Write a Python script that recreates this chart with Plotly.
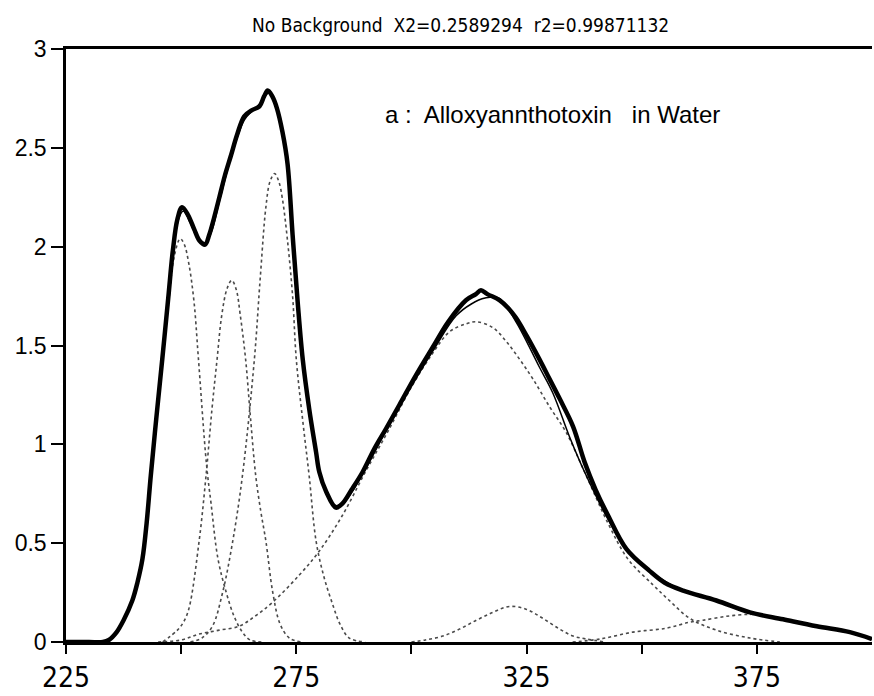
import plotly.graph_objects as go

# Measured spectrum (absorbance vs wavelength, nm)
data_x = [225, 230, 233, 234.3, 236, 237.5, 239.4, 240.5, 241.6, 242.5, 243.4, 244.6,
          245.9, 247.2, 248.2, 249.2, 250.2, 251.5, 252.8, 254, 255.2, 256.1, 257.2,
          258.3, 259.5, 260.8, 262.2, 263.7, 265.3, 267, 268, 268.8, 269.8, 270.8,
          272, 273.1, 274.2, 275.3, 276.4, 277.8, 279.3, 280.0, 281.5, 283.6, 285,
          287, 289.4, 292, 294.5, 297.4, 301, 304.6, 308, 311.9, 314, 315.1, 316.5,
          319.1, 321, 322.7, 325, 327.8, 330, 332.2, 335.1, 337.6, 340, 342.7, 346.7,
          351.7, 355, 359, 366.2, 373.5, 380.7, 388, 395.2, 400]
data_y = [0, 0, 0, 0.01, 0.05, 0.11, 0.21, 0.30, 0.42, 0.60, 0.84, 1.13,
          1.43, 1.74, 1.98, 2.14, 2.20, 2.16, 2.09, 2.03, 2.01, 2.06, 2.15,
          2.25, 2.36, 2.46, 2.57, 2.66, 2.69, 2.71, 2.76, 2.79, 2.76, 2.70,
          2.58, 2.42, 2.06, 1.72, 1.43, 1.18, 0.96, 0.86, 0.76, 0.68, 0.70,
          0.77, 0.86, 0.98, 1.08, 1.20, 1.35, 1.49, 1.62, 1.73, 1.76, 1.78, 1.76,
          1.73, 1.69, 1.64, 1.55, 1.43, 1.33, 1.23, 1.09, 0.91, 0.77, 0.64, 0.47,
          0.36, 0.30, 0.26, 0.21, 0.15, 0.115, 0.08, 0.05, 0.015]

# Sum of the fitted peaks
fit_x = [225, 233, 234.3, 236, 237.5, 239.4, 241.6, 243.4, 245.9, 247.2, 248.5, 249.6,
         250.5, 252, 253.5, 255.2, 256.5, 258.3, 260.8, 263.7, 265.5, 267, 268.5,
         269.3, 270.5, 272, 273.1, 274.2, 276.4, 278, 280, 282, 283.6, 285.5, 289.4,
         294.5, 297.4, 304.6, 309.7, 313, 316, 319, 322.7, 327.8, 330.7, 334.3,
         337.6, 342.7, 346.7, 351.7, 359, 366.2, 373.5, 380.7, 388, 395.2, 400]
fit_y = [0, 0, 0.01, 0.05, 0.11, 0.21, 0.42, 0.84, 1.42, 1.73, 2.02, 2.15,
         2.18, 2.12, 2.05, 2.02, 2.07, 2.23, 2.45, 2.64, 2.69, 2.72, 2.77,
         2.78, 2.72, 2.57, 2.40, 2.05, 1.42, 1.15, 0.87, 0.73, 0.69, 0.71, 0.85,
         1.07, 1.19, 1.47, 1.65, 1.71, 1.74, 1.74, 1.62, 1.39, 1.26, 1.04,
         0.86, 0.62, 0.47, 0.36, 0.26, 0.21, 0.15, 0.115, 0.08, 0.05, 0.015]

# Individual fitted peaks
p1_x = [233, 234.3, 236, 237.5, 239.4, 241.6, 243.4, 245.9, 247.2, 248.5, 249.8, 250.7,
        251.7, 252.8, 253.7, 255.5, 256.5, 258, 259.8, 261.5, 263.3, 265, 268]
p1_y = [0, 0.01, 0.05, 0.11, 0.21, 0.42, 0.83, 1.40, 1.70, 1.95, 2.04, 2.01,
        1.91, 1.72, 1.45, 0.90, 0.70, 0.42, 0.25, 0.13, 0.05, 0.01, 0]

p2_x = [246, 249.2, 250.5, 251.7, 253.9, 255.4, 256.7, 257.8, 258.8, 260, 261.0, 262,
        262.8, 264, 265, 266.2, 267.3, 268.4, 269.9, 271.5, 273.5, 276]
p2_y = [0, 0.06, 0.10, 0.17, 0.51, 0.84, 1.18, 1.43, 1.65, 1.79, 1.83, 1.78,
        1.66, 1.43, 1.15, 0.84, 0.66, 0.51, 0.25, 0.09, 0.02, 0]

p3_x = [252, 254.5, 256.8, 259, 261.2, 263.3, 265.9, 267.2, 268.4, 269.3, 270.3, 271.2,
        272, 273.1, 274.2, 275, 276.4, 277.8, 279.3, 281, 282.9, 284.5, 286.5, 290]
p3_y = [0, 0.02, 0.08, 0.25, 0.51, 0.84, 1.43, 1.85, 2.20, 2.33, 2.37, 2.33,
        2.24, 2.03, 1.75, 1.43, 1.12, 0.84, 0.51, 0.33, 0.19, 0.09, 0.02, 0]

p4_x = [245, 250, 253.9, 258.3, 262.6, 266, 269.8, 275.7, 280, 285, 290, 295, 300,
        304.6, 308.3, 311.9, 314.1, 317.7, 320.6, 323.5, 326.4, 330, 333.6, 337.6,
        342.7, 347, 352.4, 356, 360.4, 366.2, 373.5, 380]
p4_y = [0, 0.01, 0.04, 0.06, 0.08, 0.13, 0.20, 0.34, 0.46, 0.64, 0.86, 1.07, 1.29,
        1.46, 1.57, 1.61, 1.62, 1.59, 1.52, 1.43, 1.33, 1.19, 1.06, 0.86,
        0.60, 0.42, 0.29, 0.21, 0.12, 0.06, 0.02, 0]

p5_x = [300, 303, 306.8, 310.4, 314.1, 317.7, 321.3, 325, 328.5, 332.2, 335.1, 338, 342]
p5_y = [0, 0.01, 0.03, 0.065, 0.11, 0.15, 0.18, 0.165, 0.12, 0.065, 0.03, 0.015, 0]

p6_x = [335, 340.9, 348.1, 355.4, 360.4, 363.3, 368.4, 373.5, 377, 380.7, 388, 395.2, 400]
p6_y = [0, 0.015, 0.05, 0.07, 0.10, 0.11, 0.13, 0.14, 0.135, 0.115, 0.08, 0.05, 0.015]

x_tick_vals = [225, 275, 325, 375]
x_tick_text = ["225", "275", "325", "375"]
x_minor_vals = [250, 300, 350]
y_tick_vals = [0, 0.5, 1, 1.5, 2, 2.5, 3]
y_tick_text = ["0", "0.5", "1", "1.5", "2", "2.5", "3"]

title_text = "No Background  X2=0.2589294  r2=0.99871132"
label_text = "a :  Alloxyannthotoxin   in Water"

narrow = "Liberation Sans Narrow, DejaVu Sans Condensed, Arial Narrow, sans-serif"
sans = "Liberation Sans, Arial, sans-serif"

fig = go.Figure()

peaks = [(p1_x, p1_y), (p2_x, p2_y), (p3_x, p3_y), (p4_x, p4_y), (p5_x, p5_y), (p6_x, p6_y)]
for px, py in peaks:
    fig.add_trace(go.Scatter(x=px, y=py, mode="lines", line_shape="spline",
                             line=dict(color="#4a4a4a", width=1.6, dash="dot"),
                             hoverinfo="skip", showlegend=False))

fig.add_trace(go.Scatter(x=data_x, y=data_y, mode="lines", line_shape="spline",
                         line=dict(color="black", width=4.5), showlegend=False))
fig.add_trace(go.Scatter(x=fit_x, y=fit_y, mode="lines", line_shape="spline",
                         line=dict(color="black", width=1.5), showlegend=False))

fig.add_annotation(text=title_text, xref="paper", yref="paper", x=0.489, y=1.041,
                   xanchor="center", yanchor="middle", showarrow=False,
                   font=dict(family=narrow, size=19, color="black"))
fig.add_annotation(text=label_text, xref="x", yref="y", x=293.8, y=2.67,
                   xanchor="left", yanchor="middle", showarrow=False,
                   font=dict(family=sans, size=24, color="black"))

fig.update_layout(
    width=874, height=696,
    margin=dict(l=66, r=2, t=49, b=48),
    paper_bgcolor="white", plot_bgcolor="white",
    showlegend=False,
)
fig.update_xaxes(range=[225, 400], tickvals=x_tick_vals, ticktext=x_tick_text,
                 ticks="outside", ticklen=9, tickwidth=2, tickcolor="black",
                 minor=dict(tickvals=x_minor_vals, ticks="outside", ticklen=9,
                            tickwidth=2, tickcolor="black"),
                 showline=True, linewidth=2.5, linecolor="black", mirror=True,
                 showgrid=False, zeroline=False,
                 tickfont=dict(family=narrow, size=28, color="black"))
fig.update_yaxes(range=[0, 3], tickvals=y_tick_vals, ticktext=y_tick_text,
                 ticks="outside", ticklen=12, tickwidth=2, tickcolor="black",
                 showline=True, linewidth=2.5, linecolor="black",
                 showgrid=False, zeroline=False,
                 tickfont=dict(family=sans, size=23, color="black"))

fig.write_html("out.html")
